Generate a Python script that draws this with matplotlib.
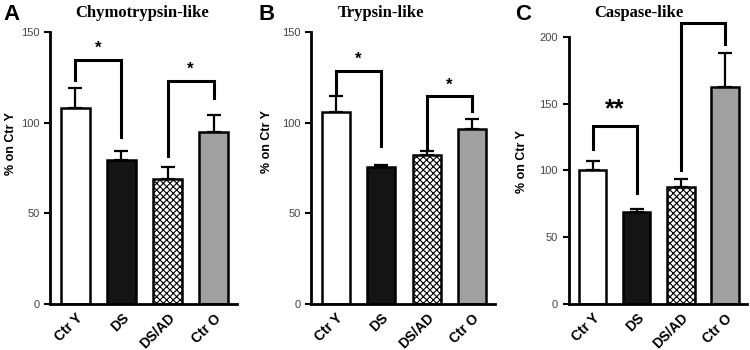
import numpy as np
import matplotlib.pyplot as plt

groups = ['Ctr Y', 'DS', 'DS/AD', 'Ctr O']

chymo_mean = [107.8, 79.3, 68.8, 94.9]
chymo_err = [11.0, 5.0, 6.8, 9.2]
tryp_mean = [105.6, 75.8, 82.1, 96.4]
tryp_err = [8.9, 0.6, 2.0, 5.6]
casp_mean = [100.2, 68.6, 87.8, 162.1]
casp_err = [6.8, 2.5, 5.5, 25.9]

# brackets: (left bar, right bar, top, left leg end, right leg end, label)
chymo_br = [(0, 1, 134.7, 123.4, 92.2, '*'), (2, 3, 123.0, 81.7, 113.6, '*')]
tryp_br = [(0, 1, 128.7, 116.3, 86.9, '*'), (2, 3, 114.5, 85.4, 106.2, '*')]
casp_br = [(0, 1, 133.4, 115.7, 82.8, '**'), (2, 3, 210.5, 100.7, 194.5, '')]

colors = ['white', '#141414', 'white', '#a0a0a0']
hatches = [None, None, 'xxxxx', None]

plt.rcParams['font.family'] = ['Liberation Sans', 'DejaVu Sans']
plt.rcParams['hatch.linewidth'] = 0.8

fig = plt.figure(figsize=(7.5, 3.5), dpi=100)

panels = [
    ('A', 'Chymotrypsin-like', chymo_mean, chymo_err, chymo_br, 150, 50,
     [0.0667, 0.131, 0.249, 0.778]),
    ('B', 'Trypsin-like', tryp_mean, tryp_err, tryp_br, 150, 50,
     [0.4147, 0.131, 0.245, 0.778]),
    ('C', 'Caspase-like', casp_mean, casp_err, casp_br, 200, 50,
     [0.758, 0.131, 0.238, 0.764]),
]
letter_x = [0.004, 0.344, 0.687]
title_x = [0.189, 0.508, 0.852]
ylab_pos = [(-0.176, 0.588), (-0.207, 0.596), (-0.226, 0.535)]

x = np.arange(len(groups))
for i, (let, title, mean, err, brs, ymax, step, rect) in enumerate(panels):
    ax = fig.add_axes(rect)
    for j in range(len(groups)):
        ax.bar(x[j], mean[j], width=0.62, color=colors[j], edgecolor='black',
               linewidth=1.8, hatch=hatches[j], zorder=2)
    ax.errorbar(x, mean, yerr=[np.zeros(4), err], fmt='none', ecolor='black',
                elinewidth=1.6, capsize=5, capthick=1.6, zorder=1)
    for (a, b, top, la, lb, lab) in brs:
        ax.plot([x[a], x[a], x[b], x[b]], [la, top, top, lb], color='black',
                lw=2.2, clip_on=False, solid_joinstyle='miter')
        if lab == '**':
            ax.text((x[a] + x[b]) / 2, top + 3, lab, ha='center', va='bottom',
                    fontsize=18, fontweight='bold')
        elif lab:
            ax.text((x[a] + x[b]) / 2, top + 2, lab, ha='center', va='bottom',
                    fontsize=12, fontweight='bold')
    ax.set_xlim(-0.55, 3.5)
    ax.set_ylim(0, ymax)
    ax.set_yticks(np.arange(0, ymax + 1, step))
    ax.set_xticks(x)
    ax.set_xticklabels(groups, rotation=45, ha='right', rotation_mode='anchor',
                       fontsize=10, fontweight='bold')
    ax.tick_params(axis='x', length=0, pad=5)
    ax.tick_params(axis='y', length=4, width=1.5, labelsize=8, labelcolor='#444')
    for s in ['top', 'right']:
        ax.spines[s].set_visible(False)
    for s in ['left', 'bottom']:
        ax.spines[s].set_linewidth(2)
    ax.set_ylabel('% on Ctr Y', fontsize=9, fontweight='bold')
    ax.yaxis.set_label_coords(*ylab_pos[i])
    fig.text(letter_x[i], 0.99, let, fontsize=16, fontweight='bold',
             ha='left', va='top')
    fig.text(title_x[i], 0.985, title, fontsize=12, fontweight='bold',
             family='Liberation Serif', ha='center', va='top')

fig.savefig('out.png', dpi=100)
